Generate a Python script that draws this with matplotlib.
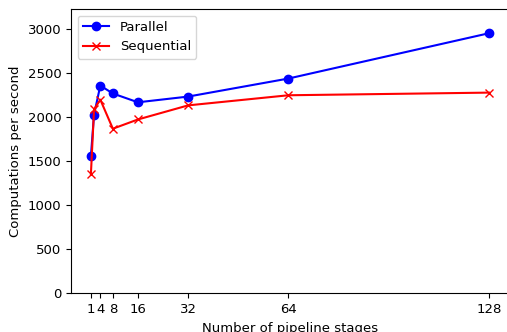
import matplotlib
matplotlib.use("Agg")
import matplotlib.pyplot as plt

stages = [1, 2, 4, 8, 16, 32, 64, 128]
parallel = [1560, 2030, 2360, 2270, 2170, 2235, 2440, 2955]
sequential = [1355, 2090, 2200, 1870, 1975, 2135, 2250, 2280]
xticks = [1, 4, 8, 16, 32, 64, 128]

plt.rcParams["font.size"] = 9.5

fig = plt.figure(figsize=(5.07, 3.32), dpi=100)
ax = fig.add_axes([71 / 507, (332 - 293.3) / 332, (509 - 71) / 507, (293.3 - 9) / 332])

ax.plot(stages, parallel, 'b-o', label="Parallel")
ax.plot(stages, sequential, 'r-x', label="Sequential")
ax.set_xticks(xticks)
ax.set_ylim(0, 3230)
ax.set_xlabel("Number of pipeline stages")
ax.set_ylabel("Computations per second")
ax.legend(loc="upper left")

fig.savefig("out.png", dpi=100)
